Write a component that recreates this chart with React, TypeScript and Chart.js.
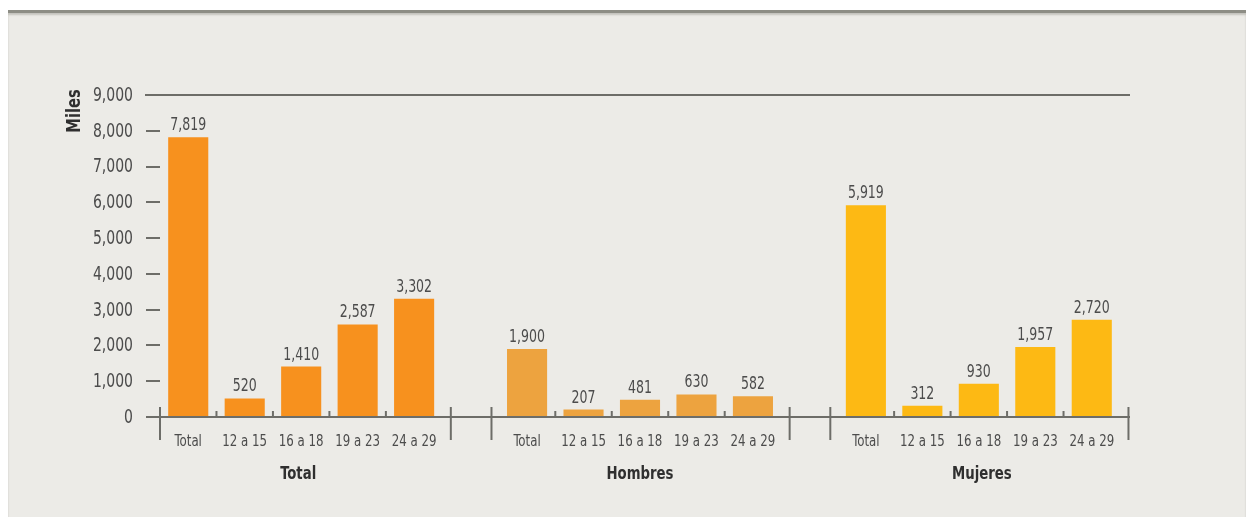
import React, { useEffect, useRef } from 'react';
import { Chart, registerables } from 'chart.js';

Chart.register(...registerables);

// ---- data ----
const ageLabels = ['Total', '12 a 15', '16 a 18', '19 a 23', '24 a 29'];
const groupLabels = ['Total', 'Hombres', 'Mujeres'];
const totalValues = [7819, 520, 1410, 2587, 3302];
const hombresValues = [1900, 207, 481, 630, 582];
const mujeresValues = [5919, 312, 930, 1957, 2720];
const yMin = 0;
const yMax = 9000;
const yStep = 1000;
const yAxisTitle = 'Miles';

// ---- styles ----
const groupColors = ['#f7911e', '#eda33f', '#fdb914'];
const FONT = "'DejaVu Sans Condensed', 'DejaVu Sans', sans-serif";
const NARROW = 0.82;
const LINE = '#6d6d68';
const TEXT = '#4c4c4c';
const TEXT_DARK = '#2f2f2f';

const groups = [totalValues, hombresValues, mujeresValues];
const labels: string[] = [];
const values: (number | null)[] = [];
const colors: string[] = [];
const groupRanges: [number, number][] = [];
groups.forEach((g, gi) => {
  if (gi > 0) {
    labels.push('');
    values.push(null);
    colors.push('rgba(0,0,0,0)');
  }
  const start = labels.length;
  g.forEach((v, i) => {
    labels.push(ageLabels[i]);
    values.push(v);
    colors.push(groupColors[gi]);
  });
  groupRanges.push([start, labels.length - 1]);
});

const fmt = (v: number) => v.toLocaleString('en-US');

function drawText(
  ctx: CanvasRenderingContext2D,
  text: string,
  x: number,
  y: number,
  size: number,
  bold: boolean,
  color: string,
  align: CanvasTextAlign,
  baseline: CanvasTextBaseline,
  sx: number = NARROW,
  rotate: number = 0
) {
  ctx.save();
  ctx.translate(x, y);
  if (rotate) ctx.rotate(rotate);
  ctx.scale(sx, 1);
  ctx.font = `${bold ? 'bold ' : ''}${size}px ${FONT}`;
  ctx.fillStyle = color;
  ctx.textAlign = align;
  ctx.textBaseline = baseline;
  ctx.fillText(text, 0, 0);
  ctx.restore();
}

const decorPlugin = {
  id: 'decor',
  afterDatasetsDraw(chart: any) {
    const { ctx, chartArea, scales } = chart;
    const x = scales.x;
    const y = scales.y;
    const p0 = x.getPixelForValue(0);
    const p1 = x.getPixelForValue(1);
    const px = (v: number) => p0 + v * (p1 - p0);
    ctx.save();
    ctx.strokeStyle = LINE;
    ctx.lineWidth = 2;
    // top line at max
    const yTop = y.getPixelForValue(yMax);
    ctx.beginPath();
    ctx.moveTo(chartArea.left - 15, yTop);
    ctx.lineTo(chartArea.right + 10, yTop);
    ctx.stroke();
    // baseline
    const y0 = y.getPixelForValue(0);
    ctx.beginPath();
    ctx.moveTo(chartArea.left - 13, y0);
    ctx.lineTo(chartArea.right + 10, y0);
    ctx.stroke();
    // y tick labels
    y.ticks.forEach((t: any) => {
      drawText(ctx, fmt(t.value), chartArea.left - 27, y.getPixelForValue(t.value) + 1, 19, false, TEXT, 'right', 'middle');
    });
    // category labels
    labels.forEach((lab, i) => {
      if (!lab) return;
      drawText(ctx, lab, x.getPixelForValue(i), y0 + 25, 16, false, TEXT, 'center', 'middle');
    });
    // group separators and inner ticks
    groupRanges.forEach(([s, e], gi) => {
      const left = px(s - 0.5 - (gi === 0 ? 0 : 0.13));
      const right = px(e + 0.5 + 0.15);
      [left, right].forEach((sx) => {
        ctx.beginPath();
        ctx.moveTo(sx, y0 - 10);
        ctx.lineTo(sx, y0 + 23);
        ctx.stroke();
      });
      for (let i = s; i < e; i++) {
        const tx = px(i + 0.5);
        ctx.beginPath();
        ctx.moveTo(tx, y0 - 6);
        ctx.lineTo(tx, y0);
        ctx.stroke();
      }
      drawText(ctx, groupLabels[gi], (px(s) + px(e)) / 2 + (gi - 1) * 3, 474, 18, true, TEXT_DARK, 'center', 'middle');
    });
    // value labels
    const meta = chart.getDatasetMeta(0);
    meta.data.forEach((bar: any, i: number) => {
      const v = values[i];
      if (v == null) return;
      drawText(ctx, fmt(v), bar.x, bar.y - 7, 17, false, TEXT, 'center', 'alphabetic');
    });
    // axis title
    drawText(ctx, yAxisTitle, 75, 111, 19, true, TEXT_DARK, 'center', 'middle', 0.86, -Math.PI / 2);
    ctx.restore();
  },
};

export default function App() {
  const ref = useRef<HTMLCanvasElement | null>(null);
  useEffect(() => {
    if (!ref.current) return;
    const chart = new Chart(ref.current, {
      type: 'bar',
      data: {
        labels,
        datasets: [
          {
            data: values,
            backgroundColor: colors,
            borderWidth: 0,
            barPercentage: 0.71,
            categoryPercentage: 1,
          },
        ],
      },
      options: {
        animation: false,
        responsive: false,
        devicePixelRatio: 1,
        layout: { padding: { left: 0, right: 126, top: 95, bottom: 0 } },
        plugins: { legend: { display: false }, tooltip: { enabled: false } },
        scales: {
          x: {
            afterFit: (s: any) => {
              s.height = 100;
            },
            grid: { display: false, drawTicks: false },
            border: { display: false },
            ticks: { display: false, autoSkip: false, maxRotation: 0 },
          },
          y: {
            min: yMin,
            max: yMax,
            afterFit: (s: any) => {
              s.width = 160;
            },
            grid: {
              drawOnChartArea: false,
              drawTicks: true,
              tickLength: 14,
              color: LINE,
              lineWidth: 2,
            },
            border: { display: false },
            ticks: {
              display: false,
              stepSize: yStep,
            },
          },
        },
      },
      plugins: [decorPlugin],
    });
    return () => chart.destroy();
  }, []);

  return (
    <div
      style={{
        position: 'fixed',
        left: 0,
        top: 0,
        width: 1246,
        height: 517,
        background: '#ffffff',
        overflow: 'hidden',
      }}
    >
      <div
        style={{
          position: 'absolute',
          left: 8,
          top: 10,
          right: 0,
          bottom: 0,
          background: '#ecebe7',
          borderTop: '3px solid #8d8d85',
          boxShadow: 'inset 0 2px 2px rgba(120,120,110,0.35)',
        }}
      />
      <canvas
        ref={ref}
        width={1246}
        height={517}
        style={{ position: 'absolute', left: 0, top: 0, width: 1246, height: 517 }}
      />
    </div>
  );
}
